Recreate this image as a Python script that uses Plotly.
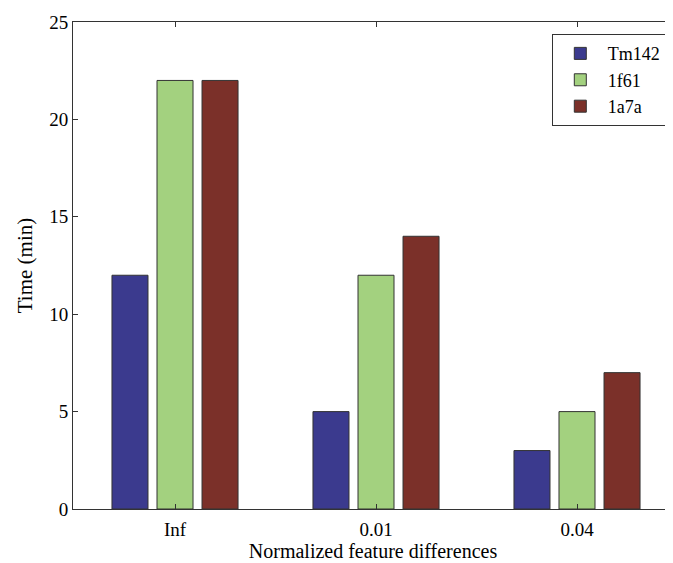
import plotly.graph_objects as go

categories = ["Inf", "0.01", "0.04"]
series_names = ["Tm142", "1f61", "1a7a"]
tm142 = [12, 5, 3]
f1f61 = [22, 12, 5]
a1a7a = [22, 14, 7]
colors = ["#3B3A8E", "#A3D17F", "#7B3029"]
y_ticks = [0, 5, 10, 15, 20, 25]

xpos = [1, 2, 3]
fig = go.Figure()
for name, vals, col in zip(series_names, [tm142, f1f61, a1a7a], colors):
    fig.add_trace(go.Bar(
        x=xpos, y=vals, name=name,
        marker=dict(color=col, line=dict(color="#333333", width=1)),
    ))

font = "Times New Roman, Liberation Serif, serif"
fig.update_layout(
    width=665, height=555,
    margin=dict(l=65, r=0, t=14, b=54),
    paper_bgcolor="white", plot_bgcolor="white",
    font=dict(family=font, size=18, color="black"),
    barmode="group", bargap=0.328, bargroupgap=0.2,
    showlegend=True,
    legend=dict(
        x=0.988, y=0.975, xanchor="right", yanchor="top",
        bordercolor="#333333", borderwidth=1, bgcolor="white",
        font=dict(family=font, size=18, color="black"),
        itemwidth=45, tracegroupgap=0,
    ),
    xaxis=dict(
        range=[0.4925, 3.4776],
        tickvals=xpos, ticktext=categories,
        ticks="inside", ticklen=5, tickcolor="#333333",
        ticklabelstandoff=3,
        showline=True, linecolor="#333333", linewidth=1, mirror="ticks",
        showgrid=False, zeroline=False,
        title=dict(text="Normalized feature differences", standoff=3,
                   font=dict(family=font, size=20, color="black")),
        tickfont=dict(family=font, size=19, color="black"),
    ),
    yaxis=dict(
        range=[0, 25], tickvals=y_ticks,
        ticks="inside", ticklen=5, tickcolor="#333333",
        showline=True, linecolor="#333333", linewidth=1, mirror="ticks",
        showgrid=False, zeroline=False,
        title=dict(text="Time (min)", standoff=10,
                   font=dict(family=font, size=21, color="black")),
        tickfont=dict(family=font, size=19, color="black"),
    ),
)

fig.write_html("out.html")
